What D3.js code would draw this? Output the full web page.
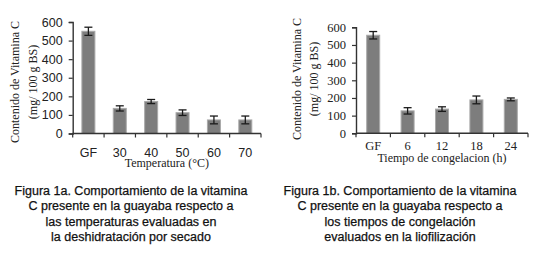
<!DOCTYPE html>
<html><head><meta charset="utf-8">
<script src="https://cdn.jsdelivr.net/npm/d3@7"></script>
<style>body{margin:0;background:#fff}svg{display:block}</style>
</head><body>
<svg id="c" width="541" height="258"></svg>
<script>
// Figure 1a data
const catsA = ["GF", "30", "40", "50", "60", "70"];
const valsA = [550, 135, 172, 112, 73, 73];
const errA = [22, 14, 11, 15, 21, 21];
// Figure 1b data
const catsB = ["GF", "6", "12", "18", "24"];
const valsB = [555, 127, 137, 189, 192];
const errB = [21, 18, 13, 22, 8];
const yTicks = [0, 100, 200, 300, 400, 500, 600];

const titleY1 = "Contenido de Vitamina C";
const titleY2 = "(mg/ 100 g BS)";
const xTitleA = "Temperatura (°C)";
const xTitleB = "Tiempo de congelacion (h)";
const capA = ["Figura 1a. Comportamiento de la vitamina", "C presente en la guayaba respecto a", "las temperaturas evaluadas en", "la deshidratación por secado"];
const capB = ["Figura 1b. Comportamiento de la vitamina", "C presente en la guayaba respecto a", "los tiempos de congelación", "evaluados en la liofilización"];

const svg = d3.select("#c");
const SANS = "Arial, 'Liberation Sans', sans-serif";
const SERIF = "'Times New Roman', 'Liberation Serif', serif";

function panel(o) {
  const g = svg.append("g");
  const x = d3.scaleBand().domain(o.cats).range([o.x0, o.x1]).padding(0);
  const y = d3.scaleLinear().domain([0, 600]).range([o.y0, o.y1]);
  const bw = o.barW;
  // bars
  g.selectAll("rect.bar").data(o.vals).join("rect").attr("class", "bar")
    .attr("x", (d, i) => x(o.cats[i]) + x.bandwidth() / 2 - bw / 2)
    .attr("y", d => y(d))
    .attr("width", bw)
    .attr("height", d => y(0) - y(d))
    .attr("fill", "#7d7d7d").attr("stroke", "#a9a9a9").attr("stroke-width", 1);
  // error bars
  o.vals.forEach((v, i) => {
    const cx = x(o.cats[i]) + x.bandwidth() / 2;
    const e = o.err[i];
    const eg = g.append("g").attr("stroke", "#1a1a1a").attr("stroke-width", 1.3);
    eg.append("line").attr("x1", cx).attr("x2", cx).attr("y1", y(v + e)).attr("y2", y(v - e));
    eg.append("line").attr("x1", cx - 4).attr("x2", cx + 4).attr("y1", y(v + e)).attr("y2", y(v + e));
    eg.append("line").attr("x1", cx - 4).attr("x2", cx + 4).attr("y1", y(v - e)).attr("y2", y(v - e));
  });
  // y axis
  const ya = g.append("g").attr("transform", `translate(${o.x0},0)`)
    .call(d3.axisLeft(y).tickValues(yTicks).tickSizeOuter(0).tickSize(4).tickPadding(o.yPad));
  ya.select(".domain").attr("stroke", "#333").attr("stroke-width", 1.4);
  ya.selectAll(".tick line").attr("stroke", "#333").attr("stroke-width", 1.2);
  ya.selectAll("text").attr("font-family", o.tickFont).attr("font-size", o.tickSize).attr("fill", "#222");
  // x axis
  const xa = g.append("g").attr("transform", `translate(0,${o.y0})`);
  xa.append("line").attr("x1", o.x0).attr("x2", o.x1).attr("stroke", "#333").attr("stroke-width", 1.4);
  const bounds = o.cats.map(c => x(c)).concat([o.x1]);
  xa.selectAll("line.tk").data(bounds).join("line").attr("class", "tk")
    .attr("x1", d => d).attr("x2", d => d).attr("y1", 0).attr("y2", 4)
    .attr("stroke", "#333").attr("stroke-width", 1.2);
  xa.selectAll("text.xl").data(o.cats).join("text").attr("class", "xl")
    .attr("x", d => x(d) + x.bandwidth() / 2).attr("y", o.xLabY - o.y0)
    .attr("text-anchor", "middle").attr("font-family", o.tickFont).attr("font-size", o.tickSize).attr("fill", "#222")
    .text(d => d);
  // titles
  g.append("text").attr("x", (o.x0 + o.x1) / 2).attr("y", o.xTitleY).attr("text-anchor", "middle")
    .attr("font-family", SERIF).attr("font-size", 12).attr("fill", "#222").text(o.xTitle);
  g.append("text").attr("transform", `translate(${o.yt1x},${o.ytc}) rotate(-90)`).attr("text-anchor", "middle")
    .attr("font-family", SERIF).attr("font-size", 12).attr("fill", "#222").text(titleY1);
  g.append("text").attr("transform", `translate(${o.yt2x},${o.ytc}) rotate(-90)`).attr("text-anchor", "middle")
    .attr("font-family", SERIF).attr("font-size", 12).attr("fill", "#222").text(titleY2);
  // caption
  g.selectAll("text.cap").data(o.cap).join("text").attr("class", "cap")
    .attr("x", o.capX).attr("y", (d, i) => 195 + i * 15.3).attr("text-anchor", "middle")
    .attr("font-family", SANS).attr("font-size", 12.5).attr("fill", "#111")
    .attr("stroke", "#111").attr("stroke-width", 0.25)
    .text(d => d);
}

panel({cats: catsA, vals: valsA, err: errA, x0: 72.7, x1: 261, y0: 133.5, y1: 22, barW: 13,
  tickFont: SANS, tickSize: 12.5, yPad: 6, xLabY: 156.5, xTitle: xTitleA, xTitleY: 166.5,
  yt1x: 19, yt2x: 37, ytc: 82, cap: capA, capX: 131});
panel({cats: catsB, vals: valsB, err: errB, x0: 356, x1: 528, y0: 133.3, y1: 27.3, barW: 13,
  tickFont: SERIF, tickSize: 12.5, yPad: 6, xLabY: 150.5, xTitle: xTitleB, xTitleY: 162,
  yt1x: 301, yt2x: 318, ytc: 79, cap: capB, capX: 400});
</script>
</body></html>
